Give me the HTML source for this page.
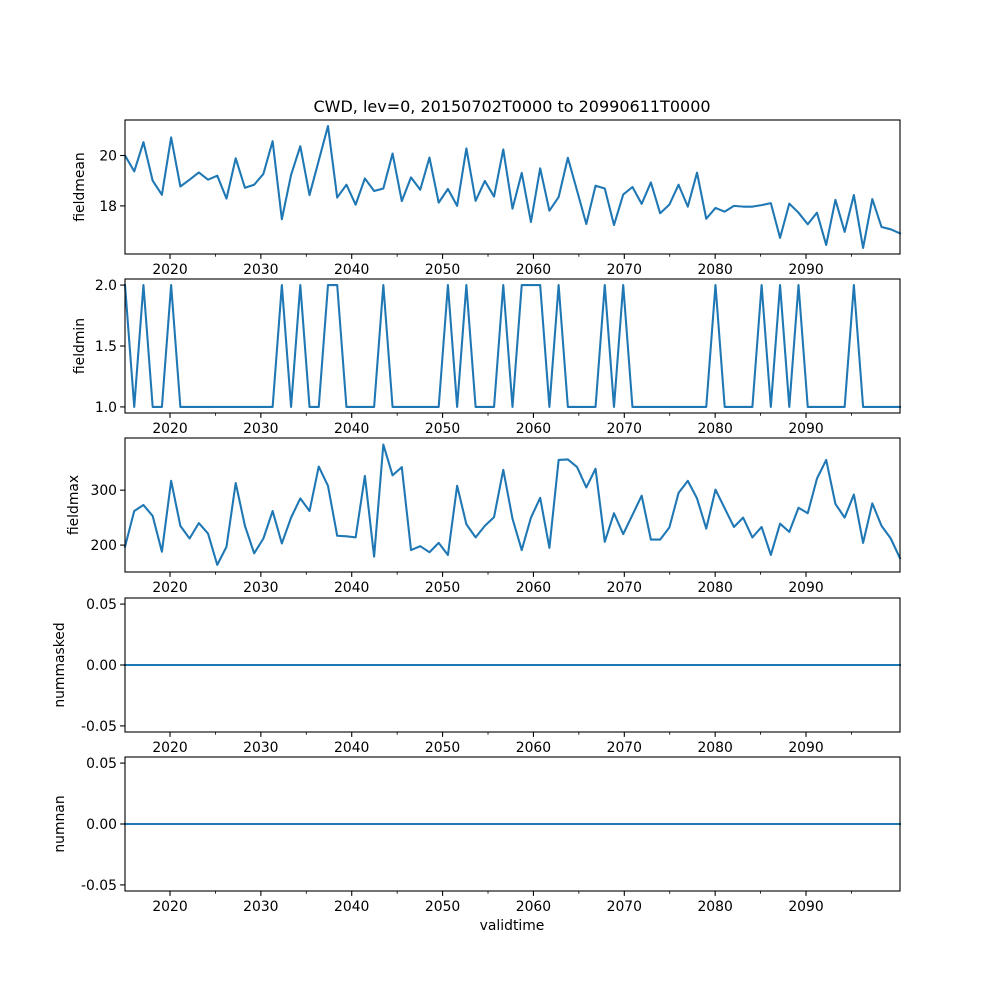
<!DOCTYPE html>
<html><head><meta charset="utf-8"><style>
html,body{margin:0;padding:0;background:#fff;}
svg{display:block;font-family:"DejaVu Sans","Liberation Sans",sans-serif;}
</style></head><body>
<svg id="fig" width="1000" height="1000" viewBox="0 0 1000 1000" xmlns="http://www.w3.org/2000/svg">
<rect width="1000" height="1000" fill="#fff"/>
<text x="512" y="112" font-size="16" text-anchor="middle">CWD, lev=0, 20150702T0000 to 20990611T0000</text>
<text x="512" y="930" font-size="13.9" text-anchor="middle">validtime</text>
</svg>
<script>
const fieldmean=[20.0,19.37,20.53,19.0,18.44,20.72,18.77,19.04,19.33,19.04,19.2,18.29,19.89,18.72,18.84,19.27,20.57,17.47,19.23,20.37,18.43,19.8,21.17,18.33,18.84,18.05,19.09,18.59,18.69,20.08,18.19,19.13,18.64,19.92,18.13,18.67,18.0,20.28,18.2,18.99,18.37,20.24,17.89,19.31,17.36,19.49,17.81,18.35,19.91,18.6,17.28,18.8,18.69,17.24,18.45,18.75,18.08,18.93,17.71,18.05,18.84,17.97,19.32,17.49,17.92,17.77,18.0,17.97,17.97,18.03,18.11,16.73,18.09,17.73,17.27,17.73,16.45,18.24,16.97,18.43,16.33,18.27,17.16,17.07,16.91];
const fieldmin=[2,1,2,1,1,2,1,1,1,1,1,1,1,1,1,1,1,2,1,2,1,1,2,2,1,1,1,1,2,1,1,1,1,1,1,2,1,2,1,1,1,2,1,2,2,2,1,2,1,1,1,1,2,1,2,1,1,1,1,1,1,1,1,1,2,1,1,1,1,2,1,2,1,2,1,1,1,1,1,2,1,1,1,1,1];
const fieldmax=[197,262,273,253,188,317,235,212,240,221,164,197,313,235,185,212,262,203,250,285,262,343,308,217,216,214,326,179,383,327,342,191,198,187,204,182,308,238,214,235,251,337,248,191,250,286,195,355,356,342,305,339,206,258,220,255,290,210,210,232,295,317,285,230,301,267,233,250,214,233,182,239,224,268,258,321,355,275,250,292,204,276,235,212,176];
const nummasked=fieldmean.map(()=>0);
const numnan=fieldmean.map(()=>0);
const xTickYears=[2020,2030,2040,2050,2060,2070,2080,2090];
const xMinorYears=[2025,2035,2045,2055,2065,2075,2085,2095];

const NS="http://www.w3.org/2000/svg";
const svg=document.getElementById('fig');
const L=125,R=900,H=134;
function el(t,a,p){const e=document.createElementNS(NS,t);for(const k in a)e.setAttribute(k,a[k]);(p||svg).appendChild(e);return e;}
function xIdx(i,n){return L+i*(R-L)/(n-1);}
function xYear(y){return 170+(y-2020)*9.086;}
const panels=[
 {name:'fieldmean',data:fieldmean,top:120,ylim:[16.09,21.41],ticks:[18,20],fmt:v=>String(v),lx:84},
 {name:'fieldmin',data:fieldmin,top:279,ylim:[0.95,2.05],ticks:[1.0,1.5,2.0],fmt:v=>v.toFixed(1),lx:84},
 {name:'fieldmax',data:fieldmax,top:438,ylim:[151,395],ticks:[200,300],fmt:v=>String(v),lx:78},
 {name:'nummasked',data:nummasked,top:598,ylim:[-0.055,0.055],ticks:[-0.05,0,0.05],fmt:v=>v.toFixed(2),lx:64},
 {name:'numnan',data:numnan,top:757,ylim:[-0.055,0.055],ticks:[-0.05,0,0.05],fmt:v=>v.toFixed(2),lx:64}
];
panels.forEach(p=>{
 const g=el('g',{});
 
 
 const yS=v=>p.top+H-(v-p.ylim[0])/(p.ylim[1]-p.ylim[0])*H;
 const pts=p.data.map((v,i)=>xIdx(i,p.data.length).toFixed(2)+','+yS(v).toFixed(2)).join(' ');
 const line=el('polyline',{points:pts,fill:'none',stroke:'#1f77b4','stroke-width':2.08,'stroke-linejoin':'round','stroke-linecap':'square'},g);
 
 
 const fr=el('rect',{x:L,y:p.top,width:R-L,height:H,fill:'none',stroke:'#000','stroke-width':1.1},g);
 
 
 p.ticks.forEach(t=>{
  const y=yS(t);
  el('line',{x1:L-4.9,x2:L,y1:y,y2:y,stroke:'#000','stroke-width':1.1},g);
  const tx=el('text',{x:L-8,y:y+5,'font-size':13.9,'text-anchor':'end'},g);
  tx.textContent=p.fmt(t);
  
  
 });
 const b=p.top+H;
 xTickYears.forEach(yr=>{
  const x=xYear(yr);
  el('line',{x1:x,x2:x,y1:b,y2:b+4.9,stroke:'#000','stroke-width':1.1},g);
  const tx=el('text',{x:x,y:b+20,'font-size':13.9,'text-anchor':'middle'},g);
  tx.textContent=String(yr);
  
  
 });
 xMinorYears.forEach(yr=>{
  const x=xYear(yr);
  el('line',{x1:x,x2:x,y1:b,y2:b+2.8,stroke:'#000','stroke-width':0.8},g);
 });
 const cy=p.top+H/2;
 const yl=el('text',{x:p.lx,y:cy,'font-size':13.9,'text-anchor':'middle',transform:'rotate(-90 '+p.lx+' '+cy+')'},g);
 yl.textContent=p.name;
 
 
});
</script>
</body></html>
